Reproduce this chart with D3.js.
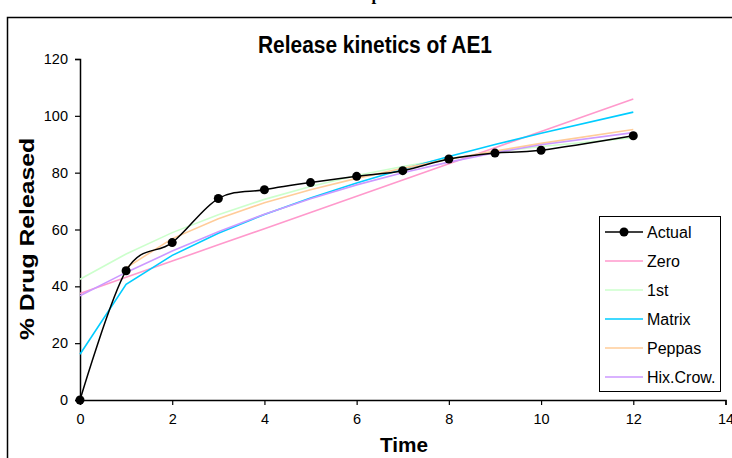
<!DOCTYPE html>
<html><head><meta charset="utf-8">
<script src="https://cdn.jsdelivr.net/npm/d3@7"></script>
<style>html,body{margin:0;padding:0;background:#fff;overflow:hidden}</style>
</head><body>
<svg id="c" width="732" height="458"></svg>
<script>
const times = [0, 1, 2, 3, 4, 5, 6, 7, 8, 9, 10, 12];
const actual = [0, 45.5, 55.4, 70.9, 74.0, 76.5, 78.7, 80.7, 84.8, 86.9, 87.9, 93.0];
const zero   = [37.5, 43.2, 48.9, 54.6, 60.3, 66.0, 71.7, 77.4, 83.1, 88.8, 94.5, 105.9];
const first  = [42.5, 51.4, 58.9, 65.2, 70.6, 75.1, 79.0, 82.2, 85.0, 87.3, 89.2, 92.3];
const matrix = [16.1, 40.7, 50.9, 58.7, 65.3, 71.1, 76.4, 81.2, 85.7, 89.9, 93.9, 101.3];
const peppasTimes = [1, 2, 3, 4, 5, 6, 7, 8, 9, 10, 12];
const peppas = [46.5, 56.8, 63.8, 69.4, 74.0, 78.0, 81.5, 84.7, 87.6, 90.3, 95.2];
const hixcrow = [36.7, 44.9, 52.4, 59.2, 65.4, 70.8, 75.7, 80.0, 83.7, 87.0, 89.8, 94.1];
const xTicks = [0, 2, 4, 6, 8, 10, 12, 14];
const yTicks = [0, 20, 40, 60, 80, 100, 120];
const seriesNames = ["Actual", "Zero", "1st", "Matrix", "Peppas", "Hix.Crow."];
const seriesColors = ["#000000", "#ff99cc", "#ccffcc", "#00ccff", "#ffcc99", "#cc99ff"];

const svg = d3.select("#c");
const font = "'Liberation Sans', Arial, sans-serif";

// outer frame (partially visible)
svg.append("rect").attr("x", 7.5).attr("y", 17.5).attr("width", 900).attr("height", 900)
  .attr("fill", "none").attr("stroke", "#000").attr("stroke-width", 1.5);
// cut-off heading at top (only descenders visible in the reference)
svg.append("text").attr("x", 366).attr("y", 0).attr("text-anchor", "middle")
  .attr("font-family", "'Liberation Serif', 'Times New Roman', serif").attr("font-weight", "bold")
  .attr("font-size", 17).text("Release profile");

const x = d3.scaleLinear().domain([0, 14]).range([80, 725.5]);
const y = d3.scaleLinear().domain([0, 120]).range([400, 59]);

svg.append("text").attr("x", 375).attr("y", 53).attr("text-anchor", "middle")
  .attr("font-family", font).attr("font-weight", "bold").attr("font-size", 23)
  .attr("textLength", 234).attr("lengthAdjust", "spacingAndGlyphs")
  .text("Release kinetics of AE1");

const gx = svg.append("g").attr("transform", "translate(0,400)")
  .call(d3.axisBottom(x).tickValues(xTicks).tickSize(5).tickPadding(9).tickFormat(d3.format("d")));
const gy = svg.append("g").attr("transform", "translate(80,0)")
  .call(d3.axisLeft(y).tickValues(yTicks).tickSize(5).tickPadding(7).tickFormat(d3.format("d")));
[gx, gy].forEach(g => {
  g.attr("font-size", null).attr("font-family", null);
  g.select(".domain").attr("stroke", "#000").attr("stroke-width", 1.5);
  g.selectAll(".tick line").attr("stroke", "#000").attr("stroke-width", 1.2);
  g.selectAll(".tick text").style("font-family", font).style("font-size", "14.5px").attr("fill", "#000");
});

svg.append("text").attr("x", 404).attr("y", 452).attr("text-anchor", "middle")
  .attr("font-family", font).attr("font-weight", "bold").attr("font-size", 21)
  .attr("textLength", 48).attr("lengthAdjust", "spacingAndGlyphs").text("Time");
svg.append("text").attr("transform", "translate(34,239) rotate(-90)").attr("text-anchor", "middle")
  .attr("font-family", font).attr("font-weight", "bold").attr("font-size", 21)
  .attr("textLength", 202).attr("lengthAdjust", "spacingAndGlyphs").text("% Drug Released");

const lin = d3.line().x(d => x(d[0])).y(d => y(d[1]));
const smooth = d3.line().x(d => x(d[0])).y(d => y(d[1])).curve(d3.curveCardinal.tension(0));
const zip = (ts, vs) => ts.map((t, i) => [t, vs[i]]);

const models = [
  [times, zero, 1], [times, first, 2], [times, matrix, 3], [peppasTimes, peppas, 4], [times, hixcrow, 5]
];
models.forEach(([ts, vs, ci]) => {
  svg.append("path").attr("d", lin(zip(ts, vs))).attr("fill", "none")
    .attr("stroke", seriesColors[ci]).attr("stroke-width", 1.6);
});
const actPts = zip(times, actual);
svg.append("path").attr("d", smooth(actPts)).attr("fill", "none")
  .attr("stroke", "#000").attr("stroke-width", 1.5);
svg.selectAll("circle.act").data(actPts).enter().append("circle")
  .attr("cx", d => x(d[0])).attr("cy", d => y(d[1])).attr("r", 4.5).attr("fill", "#000");

// legend
const lg = svg.append("g");
lg.append("rect").attr("x", 599.5).attr("y", 216.5).attr("width", 121).attr("height", 175)
  .attr("fill", "#fff").attr("stroke", "#000").attr("stroke-width", 1);
seriesNames.forEach((n, i) => {
  const yy = 232 + i * 29;
  lg.append("line").attr("x1", 605).attr("x2", 643).attr("y1", yy).attr("y2", yy)
    .attr("stroke", seriesColors[i]).attr("stroke-width", i === 0 ? 1.5 : 1.6);
  if (i === 0) lg.append("circle").attr("cx", 624).attr("cy", yy).attr("r", 4.5).attr("fill", "#000");
  lg.append("text").attr("x", 647).attr("y", yy + 5.5).attr("font-family", font).attr("font-size", 16)
    .attr("fill", "#000").text(n);
});
</script>
</body></html>
